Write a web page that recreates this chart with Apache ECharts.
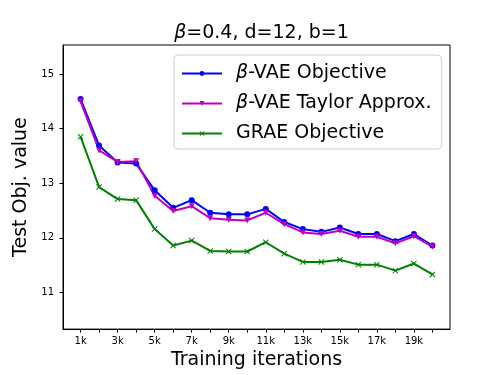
<!DOCTYPE html>
<html>
<head>
<meta charset="utf-8">
<script src="https://cdn.jsdelivr.net/npm/echarts@6/dist/echarts.min.js"></script>
<style>html,body{margin:0;padding:0;background:#fff}#c{width:500px;height:375px}</style>
</head>
<body>
<div id="c"></div>
<script>
// Training iterations (thousands)
var iterations = [1,2,3,4,5,6,7,8,9,10,11,12,13,14,15,16,17,18,19,20];
var betaVAE = [14.54,13.69,13.38,13.36,12.87,12.55,12.69,12.46,12.43,12.43,12.53,12.29,12.16,12.11,12.19,12.07,12.07,11.94,12.07,11.86];
var betaTaylor = [14.50,13.60,13.39,13.40,12.77,12.49,12.58,12.36,12.33,12.32,12.46,12.25,12.10,12.07,12.13,12.02,12.02,11.90,12.03,11.84];
var grae = [13.85,12.93,12.71,12.69,12.16,11.86,11.95,11.76,11.75,11.75,11.92,11.71,11.56,11.56,11.60,11.51,11.51,11.40,11.53,11.33];
var xTicks = [1,2,3,4,5,6,7,8,9,10,11,12,13,14,15,16,17,18,19,20];
var xLabels = [1,3,5,7,9,11,13,15,17,19];
var yTicks = [11,12,13,14,15];
var seriesNames = ['β-VAE Objective','β-VAE Taylor Approx.','GRAE Objective'];

function pairs(vals){ return iterations.map(function(x,i){ return [x, vals[i]]; }); }
var FONT = 'DejaVu Sans';
var xPath = 'path://M0,1.2L1.2,0L5,3.8L8.8,0L10,1.2L6.2,5L10,8.8L8.8,10L5,6.2L1.2,10L0,8.8L3.8,5Z';

var chart = echarts.init(document.getElementById('c'), null, {renderer:'canvas'});
chart.setOption({
  animation: false,
  textStyle: {fontFamily: FONT},
  title: {
    text: '{i|β}=0.4, d=12, b=1',
    left: 256.5, top: 19, textAlign: 'center',
    textStyle: {fontFamily: FONT, fontSize: 19, fontWeight: 'normal', color: '#000',
      rich: {i: {fontFamily: FONT, fontSize: 19, fontStyle: 'italic', color: '#000'}}}
  },
  grid: {left: 63, right: 50, top: 45, bottom: 41, show: true, borderColor: '#000', borderWidth: 1, containLabel: false},
  legend: {
    orient: 'vertical', left: 174, top: 55,
    itemWidth: 40, itemHeight: 6, itemGap: 11,
    padding: [9, 10, 6, 7],
    backgroundColor: 'rgba(255,255,255,0.8)', borderColor: '#cccccc', borderWidth: 1, borderRadius: 4,
    formatter: function(n){ return n.replace('β', '{i|β}'); },
    textStyle: {fontFamily: FONT, fontSize: 19, color: '#000', padding: [0,0,0,9],
      rich: {i: {fontFamily: FONT, fontSize: 19, fontStyle: 'italic', color: '#000'}}},
    data: seriesNames
  },
  xAxis: {
    type: 'value', min: 0.05, max: 20.95,
    name: 'Training iterations', nameLocation: 'middle', nameGap: 19,
    nameTextStyle: {fontFamily: FONT, fontSize: 19, color: '#000'},
    axisLine: {show: true, onZero: false, lineStyle: {color: '#000', width: 1}},
    axisTick: {show: true, length: 3.5, customValues: xTicks, lineStyle: {color: '#000'}},
    axisLabel: {show: true, margin: 7, customValues: xLabels, fontSize: 10, color: '#000', fontFamily: FONT,
      formatter: function(v){ return v + 'k'; }},
    splitLine: {show: false}
  },
  yAxis: {
    type: 'value', min: 10.33, max: 15.53,
    name: 'Test Obj. value', nameLocation: 'middle', nameGap: 29,
    nameTextStyle: {fontFamily: FONT, fontSize: 19, color: '#000'},
    axisLine: {show: true, onZero: false, lineStyle: {color: '#000', width: 1}},
    axisTick: {show: true, length: 3.5, customValues: yTicks, lineStyle: {color: '#000'}},
    axisLabel: {show: true, margin: 9, customValues: yTicks, fontSize: 10, color: '#000', fontFamily: FONT},
    splitLine: {show: false}
  },
  series: [
    {name: seriesNames[0], type: 'line', data: pairs(betaVAE), color: '#0000ff',
      symbol: 'circle', symbolSize: 6, lineStyle: {width: 2}, itemStyle: {color: '#0000ff'}},
    {name: seriesNames[1], type: 'line', data: pairs(betaTaylor), color: '#bf00bf',
      symbol: 'triangle', symbolRotate: 180, symbolSize: 6, lineStyle: {width: 2}, itemStyle: {color: '#bf00bf'}},
    {name: seriesNames[2], type: 'line', data: pairs(grae), color: '#008000',
      symbol: xPath, symbolSize: 6, lineStyle: {width: 2}, itemStyle: {color: '#008000'}}
  ]
});
</script>
</body>
</html>
